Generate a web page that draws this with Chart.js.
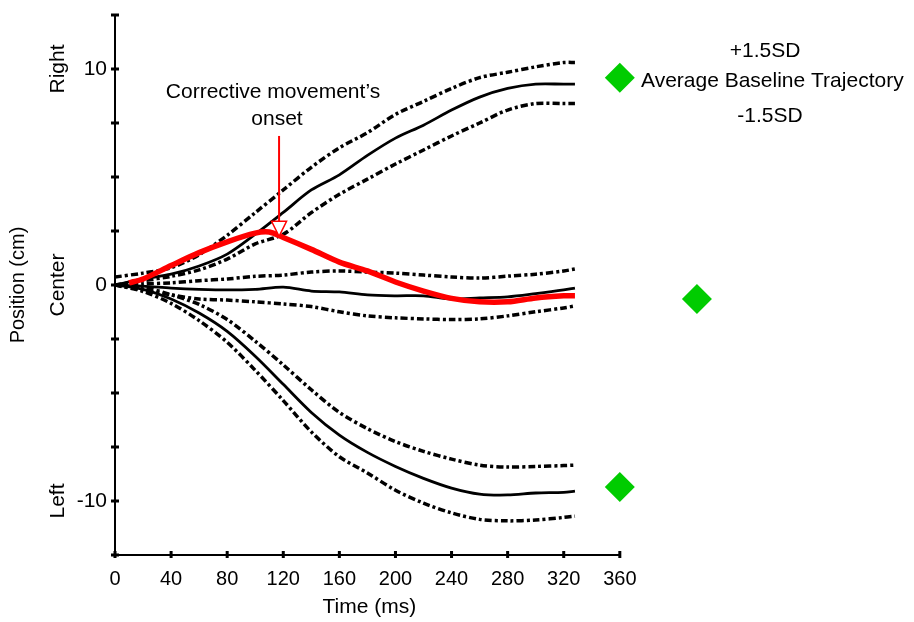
<!DOCTYPE html>
<html>
<head>
<meta charset="utf-8">
<script src="https://cdn.jsdelivr.net/npm/chart.js@4.4.0/dist/chart.umd.min.js"></script>
<style>
  html, body { margin: 0; padding: 0; background: #fff; }
  #wrap { width: 914px; height: 622px; position: relative; }
</style>
</head>
<body>
<div id="wrap"><canvas id="trajChart"></canvas></div>
<script>
// time base (ms) shared by the baseline trajectories
const times = [0, 20, 40, 60, 80, 100, 120, 140, 160, 180, 200, 220, 240, 260, 280, 300, 320, 328];

// right target: mean and +/-1.5 SD (cm)
const rightMean  = [0, 0.28, 0.5, 0.88, 1.43, 2.35, 3.36, 4.4, 5.1, 6.0, 6.8, 7.4, 8.1, 8.7, 9.1, 9.3, 9.3, 9.3];
const rightUpper = [0.37, 0.55, 0.8, 1.4, 2.3, 3.35, 4.4, 5.45, 6.35, 7.05, 7.9, 8.5, 9.1, 9.6, 9.85, 10.1, 10.3, 10.3];
const rightLower = [0, 0.2, 0.4, 0.7, 1.2, 1.9, 2.35, 3.35, 4.2, 4.9, 5.6, 6.25, 6.9, 7.5, 8.1, 8.4, 8.4, 8.4];

// center target
const centerMean  = [0, -0.05, -0.14, -0.2, -0.23, -0.2, -0.1, -0.28, -0.32, -0.46, -0.5, -0.5, -0.65, -0.6, -0.55, -0.4, -0.23, -0.14];
const centerUpper = [0, 0.05, 0.1, 0.2, 0.28, 0.4, 0.46, 0.6, 0.65, 0.6, 0.55, 0.46, 0.37, 0.32, 0.41, 0.5, 0.65, 0.74];
const centerLower = [0, -0.23, -0.46, -0.65, -0.7, -0.78, -0.88, -1.0, -1.24, -1.43, -1.52, -1.57, -1.6, -1.57, -1.43, -1.24, -1.06, -0.97];

// left target
const leftMean  = [0, -0.2, -0.65, -1.3, -2.15, -3.3, -4.6, -5.9, -6.95, -7.75, -8.4, -8.95, -9.4, -9.68, -9.72, -9.63, -9.6, -9.54];
const leftUpper = [0, -0.1, -0.45, -0.9, -1.6, -2.6, -3.7, -4.85, -5.9, -6.65, -7.25, -7.7, -8.06, -8.34, -8.43, -8.4, -8.36, -8.34];
const leftLower = [0, -0.3, -0.85, -1.65, -2.65, -3.95, -5.35, -6.8, -7.95, -8.7, -9.5, -10.1, -10.55, -10.85, -10.92, -10.88, -10.76, -10.7];

// perturbed trial (red)
const redTimes = [10, 20, 40, 60, 80, 100, 110, 120, 140, 160, 180, 200, 220, 240, 260, 280, 300, 320, 328];
const redPos   = [0.1, 0.28, 0.9, 1.5, 2.0, 2.4, 2.45, 2.2, 1.65, 1.06, 0.65, 0.14, -0.28, -0.62, -0.78, -0.78, -0.6, -0.5, -0.5];

// green diamonds (average baseline trajectory end points)
const diamondTimes = [360, 415, 360];
const diamondPos   = [9.6, -0.65, -9.35];

// axis ticks
const xTicks = [0, 40, 80, 120, 160, 200, 240, 280, 320, 360];
const yLabelled = [10, 0, -10];
const sideLabels = ['Right', 'Center', 'Left'];

// corrective movement onset arrow (time, position values)
const onsetTime = 117;
const arrowTop = 6.9;
const arrowHeadTop = 2.95;
const arrowTip = 2.25;

const FONT = '"Liberation Sans", Arial, Helvetica, sans-serif';
Chart.defaults.font.family = FONT;
Chart.defaults.color = '#000';

const pts = (xs, ys) => xs.map((x, i) => ({ x: x, y: ys[i] }));
const solid = (ys) => ({
  data: pts(times, ys), borderColor: '#000', borderWidth: 2.8,
  pointRadius: 0, tension: 0.3, fill: false
});
const sd = (ys) => ({
  data: pts(times, ys), borderColor: '#000', borderWidth: 3.5,
  borderDash: [7, 3, 3, 3], pointRadius: 0, tension: 0.3, fill: false
});

const extras = {
  id: 'extras',
  afterDraw(chart) {
    const ctx = chart.ctx;
    const xs = chart.scales.x, ys = chart.scales.y;
    const area = chart.chartArea;
    const xEnd = xs.getPixelForValue(xTicks[xTicks.length - 1]);
    ctx.save();
    // x axis line stops at the last tick
    ctx.strokeStyle = '#000';
    ctx.lineWidth = 2;
    ctx.beginPath();
    ctx.moveTo(area.left - 1, area.bottom);
    ctx.lineTo(xEnd + 1, area.bottom);
    ctx.stroke();

    // tick marks crossing the axes
    ctx.fillStyle = '#000';
    xs.ticks.forEach((t, i) => {
      const px = xs.getPixelForTick(i);
      ctx.fillRect(px - 1.5, area.bottom - 4, 3, 7);
    });
    ys.ticks.forEach((t, i) => {
      const py = ys.getPixelForTick(i);
      ctx.fillRect(area.left - 4, py - 1.5, 8, 3);
    });

    // x axis title, centred under the drawn part of the axis
    ctx.font = '21px ' + FONT;
    ctx.textAlign = 'center';
    ctx.textBaseline = 'middle';
    ctx.fillText('Time (ms)', (area.left + xEnd) / 2 + 2, 607);

    // Right / Center / Left
    yLabelled.forEach((v, i) => {
      ctx.save();
      ctx.translate(58, ys.getPixelForValue(v));
      ctx.rotate(-Math.PI / 2);
      ctx.fillText(sideLabels[i], 0, 0);
      ctx.restore();
    });

    // annotation text
    ctx.textBaseline = 'alphabetic';
    ctx.fillText('Corrective movement\u2019s', 273, 98);
    ctx.fillText('onset', 277, 125);

    // arrow
    const ax = xs.getPixelForValue(onsetTime);
    const y0 = ys.getPixelForValue(arrowTop);
    const y1 = ys.getPixelForValue(arrowHeadTop);
    const y2 = ys.getPixelForValue(arrowTip);
    ctx.strokeStyle = 'rgb(255,0,0)';
    ctx.lineWidth = 2;
    ctx.beginPath();
    ctx.moveTo(ax, y0);
    ctx.lineTo(ax, y1);
    ctx.stroke();
    ctx.beginPath();
    ctx.moveTo(ax - 7.5, y1);
    ctx.lineTo(ax + 7.5, y1);
    ctx.lineTo(ax, y2);
    ctx.closePath();
    ctx.fillStyle = '#fff';
    ctx.fill();
    ctx.lineWidth = 1.5;
    ctx.stroke();

    // legend text
    ctx.fillStyle = '#000';
    ctx.textAlign = 'center';
    ctx.fillText('+1.5SD', 765, 57);
    ctx.fillText('-1.5SD', 770, 122);
    ctx.textAlign = 'left';
    ctx.fillText('Average Baseline Trajectory', 641, 87);
    ctx.restore();
  }
};

new Chart(document.getElementById('trajChart'), {
  type: 'line',
  data: {
    datasets: [
      {
        data: pts(diamondTimes, diamondPos), showLine: false, clip: false,
        pointStyle: 'rectRot', pointRadius: 15, pointBackgroundColor: 'rgb(0,204,0)',
        pointBorderWidth: 0, borderWidth: 0
      },
      {
        data: pts(redTimes, redPos), borderColor: 'rgb(255,0,0)', borderWidth: 5.5,
        pointRadius: 0, tension: 0.3, fill: false
      },
      solid(rightMean), sd(rightUpper), sd(rightLower),
      solid(centerMean), sd(centerUpper), sd(centerLower),
      solid(leftMean), sd(leftUpper), sd(leftLower)
    ]
  },
  options: {
    responsive: true,
    maintainAspectRatio: false,
    animation: false,
    layout: { padding: { left: 0, right: 182, top: 13, bottom: 0 } },
    plugins: { legend: { display: false }, tooltip: { enabled: false } },
    scales: {
      x: {
        type: 'linear', min: 0, max: 440,
        afterBuildTicks: (s) => { s.ticks = xTicks.map(v => ({ value: v })); },
        afterFit: (s) => { s.height = 67; s.paddingLeft = 0; s.paddingRight = 0; },
        grid: { display: false, drawTicks: false, tickLength: 0 },
        border: { display: false },
        ticks: { autoSkip: false, maxRotation: 0, padding: 12, font: { size: 20 }, color: '#000' },
        title: { display: false }
      },
      y: {
        type: 'linear', min: -12.5, max: 12.5,
        afterFit: (s) => { s.width = 115; s.paddingTop = 0; s.paddingBottom = 0; },
        grid: { display: false, drawTicks: false, tickLength: 0 },
        border: { display: true, color: '#000', width: 2 },
        ticks: {
          stepSize: 2.5, autoSkip: false, padding: 8, font: { size: 21 }, color: '#000',
          callback: (v) => yLabelled.some(l => Math.abs(l - v) < 1e-6) ? String(v) : ''
        },
        title: { display: true, text: 'Position (cm)', font: { size: 20 }, padding: { top: 6, bottom: 2 }, color: '#000' }
      }
    }
  },
  plugins: [extras]
});
</script>
</body>
</html>
